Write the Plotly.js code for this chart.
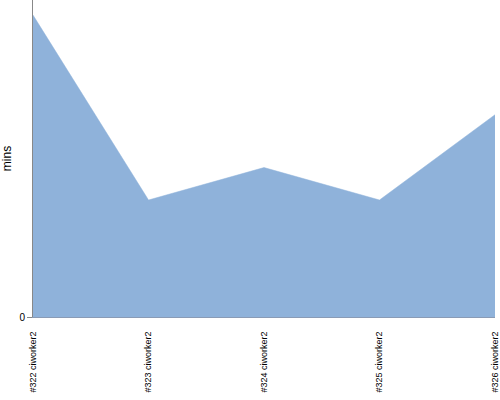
<!DOCTYPE html>
<html><head><meta charset="utf-8">
<script src="https://cdn.plot.ly/plotly-3.0.1.min.js"></script>
<style>html,body{margin:0;padding:0;background:#fff}#c{width:500px;height:400px}</style>
</head><body><div id="c"></div>
<script>
const categories = ["#322 ciworker2","#323 ciworker2","#324 ciworker2","#325 ciworker2","#326 ciworker2"];
const minutes = [20, 7.75, 9.9, 7.75, 13.4];
const yTicks = [0];

Plotly.newPlot('c', [{
  type: 'scatter', mode: 'lines', x: categories, y: minutes,
  fill: 'tozeroy', fillcolor: '#8fb2da', line: {color: '#8fb2da', width: 0.5},
  hoverinfo: 'x+y'
}], {
  width: 500, height: 400,
  margin: {l: 33, r: 5, t: 0, b: 83},
  paper_bgcolor: '#fff', plot_bgcolor: '#fff',
  showlegend: false,
  font: {family: 'Liberation Sans, Arial, sans-serif', color: '#000'},
  xaxis: {type: 'category', range: [0, 4], tickangle: -90, tickfont: {size: 9, color: '#000'},
          showgrid: false, zeroline: false, showline: true, linecolor: '#8a9bb5', linewidth: 1,
          ticks: 'outside', ticklen: 10, tickcolor: 'rgba(0,0,0,0)'},
  yaxis: {range: [0, 21], tickvals: yTicks, ticktext: ['0'], tickfont: {size: 10, color: '#000'},
          showgrid: false, zeroline: false, showline: true, linecolor: '#888', linewidth: 1,
          ticks: 'outside', ticklen: 5, tickcolor: '#888',
          title: {text: 'mins', font: {size: 12, color: '#000'}, standoff: 10}}
}, {displayModeBar: false, staticPlot: true});
</script></body></html>
